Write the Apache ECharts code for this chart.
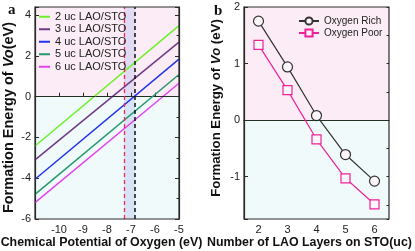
<!DOCTYPE html>
<html><head><meta charset="utf-8">
<script src="https://cdn.jsdelivr.net/npm/echarts@6/dist/echarts.min.js"></script>
<style>html,body{margin:0;padding:0;background:#fff}#c{width:415px;height:251px}</style>
</head><body><div id="c"></div>
<script>
// ---------- Panel a data ----------
const muExtent = [-11, -5];                 // chemical potential range (eV)
const energyExtentA = [-6, 4.4];
const lineNames = ['2 uc LAO/STO', '3 uc LAO/STO', '4 uc LAO/STO', '5 uc LAO/STO', '6 uc LAO/STO'];
const energyAtMuMin = [-2.42, -3.10, -4.05, -4.79, -5.20];   // value at mu = -11
const energyAtMuMax = [3.49, 2.68, 1.84, 1.09, 0.66];        // value at mu = -5
const bandEdges = [-7.29, -6.83];
const zeroLevel = 0;
// ---------- Panel b data ----------
const layers = ['2', '3', '4', '5', '6'];
const oxygenRich = [1.75, 0.94, 0.08, -0.61, -1.08];
const oxygenPoor = [1.33, 0.53, -0.34, -1.03, -1.49];
const energyExtentB = [-1.75, 2];

const lineColors = ['#6cf02a', '#6f3a86', '#2334ee', '#23996c', '#e444ee'];
const FONT = '"Liberation Sans", Arial, sans-serif';
const AX = '#2a2a2a';
const PINK = '#fcecf5';
const CYAN = '#f0fafa';
const BAND = 'rgba(160,180,240,0.30)';

const chart = echarts.init(document.getElementById('c'), null, {renderer: 'canvas'});

const tickLabel = {fontFamily: FONT, fontSize: 11, color: '#222'};

const seriesA = lineNames.map((n, i) => ({
  name: n, type: 'line', xAxisIndex: 0, yAxisIndex: 0, z: 4,
  symbol: 'none', lineStyle: {color: lineColors[i], width: 1.5}, itemStyle: {color: lineColors[i]},
  data: [[muExtent[0], energyAtMuMin[i]], [muExtent[1], energyAtMuMax[i]]]
}));

const texts = [
  {type: 'text', left: 8, top: 3, z: 20, style: {text: 'a', font: 'bold 15px "Liberation Serif", serif', fill: '#111'}},
  {type: 'text', left: 214, top: 4, z: 20, style: {text: 'b', font: 'bold 15px "Liberation Serif", serif', fill: '#111'}},
  {type: 'text', x: 101.5, y: 243, z: 20, style: {text: 'Chemical Potential of Oxygen (eV)', font: 'bold 12.4px ' + FONT, fill: '#111', align: 'center', verticalAlign: 'middle'}},
  {type: 'text', x: 207, y: 243, z: 20, style: {text: 'Number of LAO Layers on STO(uc)', font: 'bold 12.4px ' + FONT, fill: '#111', align: 'left', verticalAlign: 'middle'}},
  {type: 'text', x: 8.5, y: 117.5, rotation: Math.PI / 2, z: 20,
   style: {text: '{b|Formation Energy of }{i|Vo}{b|(eV)}', align: 'center', verticalAlign: 'middle',
     rich: {b: {font: 'bold 14.5px ' + FONT, fill: '#111'}, i: {font: 'italic bold 14.5px ' + FONT, fill: '#111'}}}},
  {type: 'text', x: 216.5, y: 108, rotation: Math.PI / 2, z: 20,
   style: {text: '{b|Formation Energy of }{i|Vo}{b| (eV)}', align: 'center', verticalAlign: 'middle',
     rich: {b: {font: 'bold 13.2px ' + FONT, fill: '#111'}, i: {font: 'italic bold 13.2px ' + FONT, fill: '#111'}}}}
];

const option = {
  animation: false,
  grid: [
    {left: 35, top: 7, width: 144, height: 212, show: false},
    {left: 244, top: 7, width: 145, height: 212, show: false}
  ],
  xAxis: [
    {type: 'value', gridIndex: 0, min: muExtent[0], max: muExtent[1], interval: 1,
     axisLine: {lineStyle: {color: AX, width: 1.2}}, axisTick: {inside: true, length: 4, lineStyle: {color: AX}},
     axisLabel: Object.assign({showMinLabel: false, margin: 5}, tickLabel), splitLine: {show: false}},
    {type: 'category', gridIndex: 1, data: layers, boundaryGap: true,
     axisLine: {lineStyle: {color: AX, width: 1.2}}, axisTick: {inside: true, length: 4, alignWithLabel: true, lineStyle: {color: AX}},
     axisLabel: Object.assign({margin: 5}, tickLabel), splitLine: {show: false}}
  ],
  yAxis: [
    {type: 'value', gridIndex: 0, min: energyExtentA[0], max: energyExtentA[1], interval: 2,
     axisLine: {show: true, lineStyle: {color: AX, width: 1.2}}, axisTick: {show: true, inside: true, length: 4, lineStyle: {color: AX}},
     axisLabel: Object.assign({margin: 4, showMinLabel: true, showMaxLabel: true, hideOverlap: false,
       formatter: v => (Math.abs(v % 2) < 1e-9 ? String(v) : '')}, tickLabel), splitLine: {show: false}},
    {type: 'value', gridIndex: 0, min: energyExtentA[0], max: energyExtentA[1], interval: 1,
     axisLine: {show: false}, axisTick: {show: true, inside: true, length: 2.5, lineStyle: {color: AX}},
     axisLabel: {show: false}, splitLine: {show: false}},
    {type: 'value', gridIndex: 0, position: 'right', min: energyExtentA[0], max: energyExtentA[1], interval: 2,
     axisLine: {show: true, lineStyle: {color: AX, width: 1.2}}, axisTick: {show: true, inside: true, length: 4, lineStyle: {color: AX}},
     axisLabel: {show: false}, splitLine: {show: false}},
    {type: 'value', gridIndex: 1, min: energyExtentB[0], max: energyExtentB[1], splitNumber: 4,
     axisLine: {show: true, lineStyle: {color: AX, width: 1.2}}, axisTick: {show: true, inside: true, length: 4, lineStyle: {color: AX}},
     axisLabel: Object.assign({margin: 4, showMinLabel: true, showMaxLabel: true, hideOverlap: false,
       formatter: v => (Math.abs(v % 1) < 1e-9 ? String(v) : '')}, tickLabel), splitLine: {show: false}},
    {type: 'value', gridIndex: 1, min: energyExtentB[0], max: energyExtentB[1], splitNumber: 8,
     axisLine: {show: false}, axisTick: {show: true, inside: true, length: 2.5, lineStyle: {color: AX}},
     axisLabel: {show: false}, splitLine: {show: false}}
  ],
  legend: [
    {data: lineNames, orient: 'vertical', left: 39, top: 11, icon: 'rect', itemWidth: 11, itemHeight: 2, itemGap: 1, z: 10,
     textStyle: {fontFamily: FONT, fontSize: 11, color: '#222', lineHeight: 11.5}, padding: 0},
    {data: ['Oxygen Rich', 'Oxygen Poor'], orient: 'vertical', left: 298, top: 16, itemWidth: 20, itemHeight: 9, itemGap: 2, z: 10,
     textStyle: {fontFamily: FONT, fontSize: 10, color: '#222'}, padding: 0}
  ],
  series: [
    {type: 'line', xAxisIndex: 0, yAxisIndex: 0, data: [], z: 3, silent: true,
     markLine: {silent: true, symbol: 'none', label: {show: false}, data: [
       {yAxis: zeroLevel, lineStyle: {color: '#1d3320', type: [4, 3], width: 1.1}},
       {xAxis: bandEdges[0], lineStyle: {color: '#ee2a55', type: [4, 3], width: 1.3}},
       {xAxis: bandEdges[1], lineStyle: {color: '#111', type: [4, 3], width: 1.5}}
     ]}},
    ...seriesA,
    {type: 'line', xAxisIndex: 1, yAxisIndex: 3, data: [], z: 3, silent: true,
     markLine: {silent: true, symbol: 'none', label: {show: false}, data: [
       {yAxis: zeroLevel, lineStyle: {color: '#1d3320', type: [4, 3], width: 1.1}}
     ]}},
    {name: 'Oxygen Rich', type: 'line', xAxisIndex: 1, yAxisIndex: 3, data: oxygenRich, z: 4,
     symbol: 'circle', symbolSize: 10, lineStyle: {color: '#333', width: 1.2},
     itemStyle: {color: '#fdf6fa', borderColor: '#333', borderWidth: 1.2}},
    {name: 'Oxygen Poor', type: 'line', xAxisIndex: 1, yAxisIndex: 3, data: oxygenPoor, z: 4,
     symbol: 'rect', symbolSize: 9, lineStyle: {color: '#ee2299', width: 1.2},
     itemStyle: {color: '#fdf6fa', borderColor: '#ee2299', borderWidth: 1.2}}
  ],
  graphic: texts
};
chart.setOption(option);

// Background regions and band, placed through the axes' own scales
const px = (axis, v) => chart.convertToPixel({xAxisIndex: axis}, v);
const py = (axis, v) => chart.convertToPixel({yAxisIndex: axis}, v);
const rect = (x0, y0, x1, y1, style, z) => ({type: 'rect', z: z, silent: true,
  shape: {x: Math.min(x0, x1), y: Math.min(y0, y1), width: Math.abs(x1 - x0), height: Math.abs(y1 - y0)}, style: style});

const aL = px(0, muExtent[0]), aR = px(0, muExtent[1]);
const aT = py(0, energyExtentA[1]), aB = py(0, energyExtentA[0]), aZ = py(0, zeroLevel);
const c2 = px(1, layers[0]), c6 = px(1, layers[layers.length - 1]);
const half = (c6 - c2) / (layers.length - 1) / 2;
const bL = c2 - half, bR = c6 + half;
const bT = py(3, energyExtentB[1]), bB = py(3, energyExtentB[0]), bZ = py(3, zeroLevel);

const shapes = [
  rect(aL, aT, aR, aB, {fill: CYAN}, -10),
  rect(aL, aT, aR, aZ, {fill: PINK}, -9),
  rect(px(0, bandEdges[0]), aT, px(0, bandEdges[1]), aB, {fill: BAND}, -8),
  rect(aL, aT, aR, aB, {fill: 'none', stroke: AX, lineWidth: 1.2}, 15),
  rect(bL, bT, bR, bB, {fill: CYAN}, -10),
  rect(bL, bT, bR, bZ, {fill: PINK}, -9),
  rect(bL, bT, bR, bB, {fill: 'none', stroke: AX, lineWidth: 1.2}, 15)
];
chart.setOption({graphic: texts.concat(shapes)});
</script>
</body></html>
